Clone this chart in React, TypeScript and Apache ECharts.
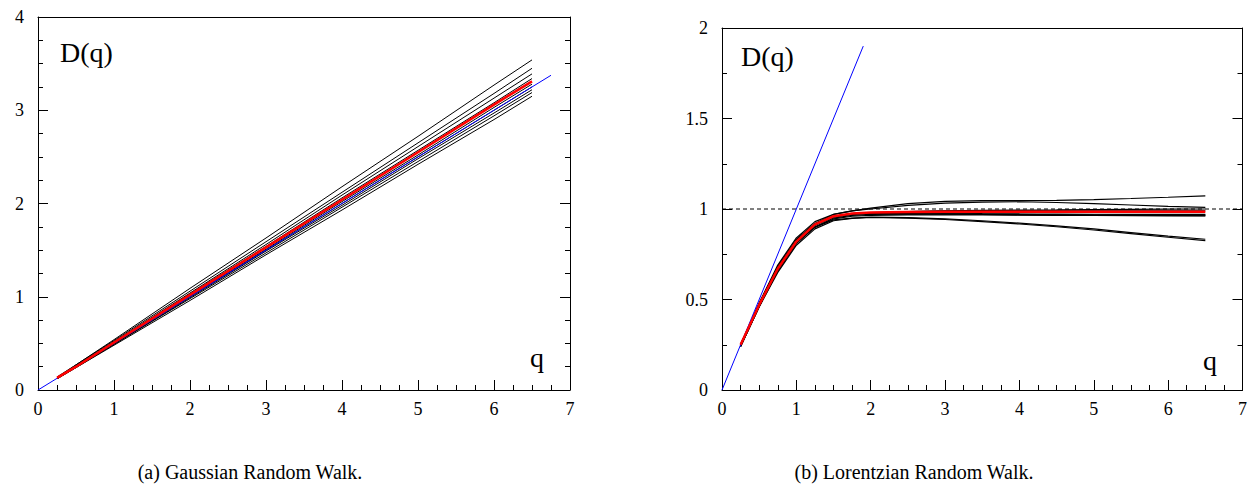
import React, { useEffect, useRef } from "react";
import * as echarts from "echarts";

// ---------- (a) Gaussian random walk ----------
const gaussQ = [0.25, 0.5, 1, 2, 3, 4, 5, 6, 6.5];
const gaussBlack = [
  [0.14, 0.27, 0.54, 1.09, 1.63, 2.18, 2.72, 3.27, 3.54],
  [0.13, 0.27, 0.53, 1.06, 1.59, 2.12, 2.65, 3.18, 3.45],
  [0.13, 0.26, 0.52, 1.04, 1.56, 2.09, 2.61, 3.13, 3.39],
  [0.13, 0.26, 0.51, 1.03, 1.54, 2.06, 2.57, 3.08, 3.34],
  [0.13, 0.25, 0.5, 1.01, 1.51, 2.02, 2.52, 3.03, 3.28],
  [0.12, 0.25, 0.5, 1.0, 1.5, 2.0, 2.5, 3.0, 3.25],
  [0.12, 0.25, 0.49, 0.99, 1.49, 1.98, 2.48, 2.97, 3.22],
  [0.12, 0.24, 0.49, 0.98, 1.47, 1.96, 2.45, 2.94, 3.19],
  [0.12, 0.24, 0.48, 0.96, 1.45, 1.93, 2.42, 2.9, 3.15],
];
const gaussRed = [0.13, 0.25, 0.51, 1.02, 1.53, 2.04, 2.55, 3.06, 3.31];
const gaussBlueQ = [0, 6.75];
const gaussBlueD = [0, 3.375];

// ---------- (b) Lorentzian random walk ----------
const lorQ = [0.25, 0.5, 0.75, 1, 1.25, 1.5, 1.75, 2, 2.5, 3, 3.5, 4, 4.5, 5, 5.5, 6, 6.5];
const lorBlack = [
  [0.25, 0.48, 0.69, 0.84, 0.93, 0.97, 0.99, 1.005, 1.03, 1.042, 1.046, 1.046, 1.048, 1.052, 1.058, 1.065, 1.073],
  [0.25, 0.48, 0.68, 0.83, 0.92, 0.97, 0.99, 1.0, 1.02, 1.032, 1.038, 1.04, 1.036, 1.03, 1.022, 1.014, 1.009],
  [0.24, 0.46, 0.66, 0.81, 0.9, 0.94, 0.95, 0.955, 0.952, 0.945, 0.935, 0.922, 0.907, 0.89, 0.87, 0.85, 0.833],
  [0.24, 0.46, 0.65, 0.8, 0.89, 0.935, 0.948, 0.953, 0.95, 0.942, 0.93, 0.917, 0.902, 0.884, 0.864, 0.844, 0.825],
  [0.25, 0.47, 0.67, 0.82, 0.91, 0.96, 0.975, 0.98, 0.985, 0.99, 0.992, 0.994, 0.995, 0.997, 0.998, 0.999, 1.0],
  [0.25, 0.47, 0.67, 0.82, 0.91, 0.955, 0.97, 0.975, 0.975, 0.973, 0.97, 0.968, 0.967, 0.967, 0.967, 0.967, 0.967],
  [0.25, 0.47, 0.68, 0.83, 0.92, 0.96, 0.975, 0.98, 0.98, 0.978, 0.975, 0.973, 0.972, 0.971, 0.97, 0.97, 0.97],
  [0.25, 0.47, 0.67, 0.82, 0.915, 0.958, 0.972, 0.978, 0.985, 0.988, 0.99, 0.99, 0.99, 0.99, 0.99, 0.99, 0.99],
  [0.24, 0.46, 0.66, 0.81, 0.9, 0.95, 0.965, 0.97, 0.972, 0.973, 0.972, 0.97, 0.968, 0.966, 0.965, 0.964, 0.963],
  [0.25, 0.47, 0.67, 0.82, 0.9, 0.945, 0.96, 0.965, 0.968, 0.968, 0.967, 0.966, 0.965, 0.964, 0.963, 0.962, 0.962],
];
const lorRed = [0.25, 0.47, 0.67, 0.82, 0.915, 0.96, 0.975, 0.98, 0.983, 0.985, 0.985, 0.985, 0.985, 0.985, 0.985, 0.985, 0.985];
const lorBlueQ = [0, 1.9];
const lorBlueD = [0, 1.9];
const lorRefQ = [0, 7];
const lorRefD = [1, 1];

const captions = ["(a) Gaussian Random Walk.", "(b) Lorentzian Random Walk."];

const pairs = (xs: number[], ys: number[]) => xs.map((x, i) => [x, ys[i]]);

const FONT = "Liberation Serif";

function mainX(gridIndex: number) {
  return {
    type: "value",
    gridIndex,
    min: 0,
    max: 7,
    interval: 1,
    position: "bottom",
    axisLine: { show: true, onZero: false, lineStyle: { color: "#000", width: 1 } },
    axisTick: { show: true, inside: true, length: 10, lineStyle: { color: "#000" } },
    minorTick: { show: true, splitNumber: 4, length: 5, lineStyle: { color: "#000" } },
    axisLabel: { show: true, color: "#000", fontFamily: FONT, fontSize: 18, margin: 10 },
    splitLine: { show: false },
    minorSplitLine: { show: false },
  };
}
function topX(gridIndex: number) {
  return {
    type: "value",
    gridIndex,
    min: 0,
    max: 7,
    interval: 1,
    position: "top",
    axisLine: { show: true, onZero: false, lineStyle: { color: "#000", width: 1 } },
    axisTick: { show: false },
    axisLabel: { show: false },
    splitLine: { show: false },
  };
}
function yAx(gridIndex: number, max: number, interval: number, minorSplit: number, pos: string) {
  return {
    type: "value",
    gridIndex,
    min: 0,
    max,
    interval,
    position: pos,
    axisLine: { show: true, onZero: false, lineStyle: { color: "#000", width: 1 } },
    axisTick: { show: true, inside: true, length: 10, lineStyle: { color: "#000" } },
    minorTick: { show: true, splitNumber: minorSplit, length: 5, lineStyle: { color: "#000" } },
    axisLabel: { show: pos === "left", color: "#000", fontFamily: FONT, fontSize: 18, margin: 14 },
    splitLine: { show: false },
    minorSplitLine: { show: false },
  };
}

function lineSeries(data: number[][], xi: number, yi: number, color: string, width: number, z: number, type: any = "solid") {
  return {
    type: "line",
    xAxisIndex: xi,
    yAxisIndex: yi,
    data,
    showSymbol: false,
    symbol: "none",
    silent: true,
    z,
    lineStyle: { color, width, type },
  };
}

function txt(x: number, y: number, text: string, size: number, align = "left", vAlign = "top") {
  return {
    type: "text",
    x,
    y,
    style: { text, fontFamily: FONT, fontSize: size, fill: "#000", align, verticalAlign: vAlign },
  };
}

export default function App() {
  const ref = useRef<HTMLDivElement>(null);
  useEffect(() => {
    if (!ref.current) return;
    const chart = echarts.init(ref.current, null, { renderer: "svg" });
    const series: any[] = [];
    gaussBlack.forEach((d) => series.push(lineSeries(pairs(gaussQ, d), 0, 0, "#000", 1, 2)));
    series.push(lineSeries(pairs(gaussBlueQ, gaussBlueD), 0, 0, "#0000ff", 1, 3));
    series.push(lineSeries(pairs(gaussQ, gaussRed), 0, 0, "#ff0000", 2.5, 4));
    series.push(lineSeries(pairs(lorRefQ, lorRefD), 2, 2, "#000", 1, 1, [4, 3]));
    lorBlack.forEach((d) => series.push(lineSeries(pairs(lorQ, d), 2, 2, "#000", 1.2, 2)));
    series.push(lineSeries(pairs(lorBlueQ, lorBlueD), 2, 2, "#0000ff", 1, 3));
    series.push(lineSeries(pairs(lorQ, lorRed), 2, 2, "#ff0000", 2.5, 4));

    chart.setOption({
      animation: false,
      backgroundColor: "#fff",
      grid: [
        { left: 38, top: 17, width: 532, height: 373 },
        { left: 722, top: 28, width: 523, height: 362 },
      ],
      xAxis: [mainX(0), topX(0), mainX(1), topX(1)],
      yAxis: [
        yAx(0, 4, 1, 4, "left"),
        yAx(0, 4, 1, 4, "right"),
        yAx(1, 2, 0.5, 2, "left"),
        yAx(1, 2, 0.5, 2, "right"),
      ],
      series,
      graphic: [
        txt(60, 38, "D(q)", 28),
        txt(741, 42, "D(q)", 28),
        txt(530, 343, "q", 28),
        txt(1203, 346, "q", 28),
        txt(250, 472, captions[0], 20, "center", "middle"),
        txt(914, 472, captions[1], 20, "center", "middle"),
      ],
    });
    return () => chart.dispose();
  }, []);
  return <div ref={ref} style={{ position: "fixed", left: 0, top: 0, width: 1250, height: 489 }} />;
}
